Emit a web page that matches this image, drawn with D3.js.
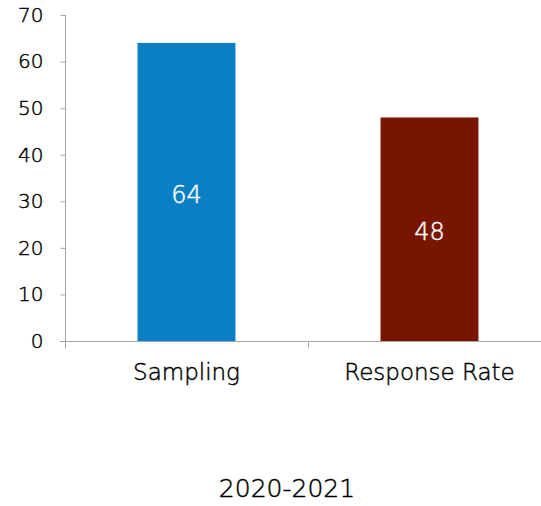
<!DOCTYPE html>
<html>
<head>
<meta charset="utf-8">
<script src="https://cdn.jsdelivr.net/npm/d3@7"></script>
<style>
  html, body { margin: 0; padding: 0; background: #fff; }
  svg { display: block; }
  text { font-family: "DejaVu Sans", sans-serif; font-weight: 300; fill: #000; stroke: #000; stroke-width: 0.45px; }
</style>
</head>
<body>
<svg id="chart" width="541" height="506"></svg>
<script>
// Survey figures for the year
const categories = ["Sampling", "Response Rate"];
const values = [64, 48];
const barColors = ["#0a7fc4", "#771500"];
const yTicks = [0, 10, 20, 30, 40, 50, 60, 70];
const periodLabel = "2020-2021";

const svg = d3.select("#chart");
const axisColor = "#a6a6a6";
const fontFamily = "'DejaVu Sans', sans-serif";

const y = d3.scaleLinear().domain([0, 70]).range([341, 15]);
const x = d3.scaleBand()
  .domain(categories)
  .range([65, 551])
  .paddingInner(0.597)
  .paddingOuter(0.2985);

// Bars
svg.selectAll("rect.bar")
  .data(values)
  .join("rect")
  .attr("class", "bar")
  .attr("x", (d, i) => x(categories[i]))
  .attr("width", x.bandwidth())
  .attr("y", d => y(d))
  .attr("height", d => y(0) - y(d))
  .attr("fill", (d, i) => barColors[i]);

// Value labels inside bars
svg.selectAll("text.val")
  .data(values)
  .join("text")
  .attr("class", "val")
  .attr("x", (d, i) => x(categories[i]) + x.bandwidth() / 2)
  .attr("y", d => (y(d) + y(0)) / 2)
  .attr("dy", "0.45em")
  .attr("text-anchor", "middle")
  .style("fill", "#ffffff")
  .style("stroke", "#ffffff")
  .style("font-size", "24px")
  .text(d => d);

// Y axis
const yAxis = svg.append("g")
  .attr("transform", "translate(65.5,0)")
  .call(d3.axisLeft(y).tickValues(yTicks).tickSize(5).tickPadding(17));
yAxis.select(".domain").attr("stroke", axisColor).attr("d", `M0,${y(70)}V${y(0) + 6}`);
yAxis.selectAll(".tick line").attr("stroke", axisColor);
yAxis.selectAll(".tick text")
  .style("font-size", "20px")
  .style("font-family", fontFamily)
  .style("font-weight", 300)
  .style("fill", "#000");

// X axis line with boundary ticks between categories
const xAxis = svg.append("g").attr("transform", `translate(0,${y(0) + 0.5})`);
xAxis.append("line")
  .attr("x1", 60).attr("x2", 551)
  .attr("stroke", axisColor);
const boundaries = [x.range()[0], x.range()[0] + x.step(), x.range()[0] + 2 * x.step()];
xAxis.selectAll("line.sep")
  .data(boundaries)
  .join("line")
  .attr("class", "sep")
  .attr("x1", d => Math.round(d) + 0.5)
  .attr("x2", d => Math.round(d) + 0.5)
  .attr("y1", 0).attr("y2", 7)
  .attr("stroke", axisColor);

// Category labels
svg.selectAll("text.cat")
  .data(categories)
  .join("text")
  .attr("class", "cat")
  .attr("x", d => x(d) + x.bandwidth() / 2)
  .attr("y", 380)
  .attr("text-anchor", "middle")
  .style("font-size", "23px")
  .text(d => d);

// Period label
svg.append("text")
  .attr("x", 287)
  .attr("y", 497)
  .attr("text-anchor", "middle")
  .style("font-size", "25px")
  .text(periodLabel);
</script>
</body>
</html>
